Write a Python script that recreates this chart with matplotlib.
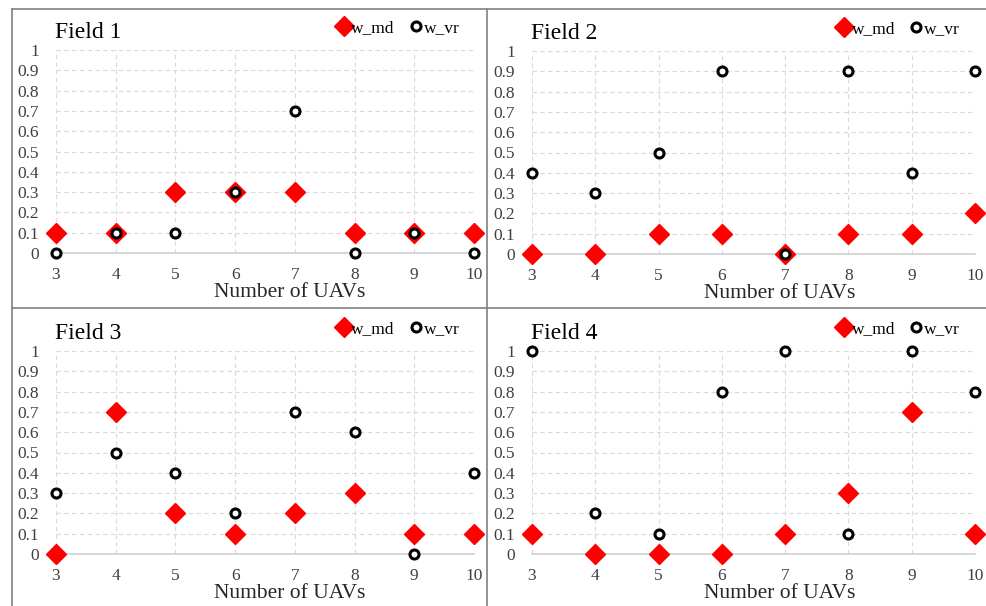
import numpy as np
import matplotlib
matplotlib.use('Agg')
import matplotlib.pyplot as plt
from matplotlib.lines import Line2D

plt.rcParams['font.family'] = ['Liberation Serif', 'DejaVu Serif']

# Data
n_uavs = [3, 4, 5, 6, 7, 8, 9, 10]
titles = ['Field 1', 'Field 2', 'Field 3', 'Field 4']

f1_md = [0.1, 0.1, 0.3, 0.3, 0.3, 0.1, 0.1, 0.1]
f1_vr = [0.0, 0.1, 0.1, 0.3, 0.7, 0.0, 0.1, 0.0]
f2_md = [0.0, 0.0, 0.1, 0.1, 0.0, 0.1, 0.1, 0.2]
f2_vr = [0.4, 0.3, 0.5, 0.9, 0.0, 0.9, 0.4, 0.9]
f3_md = [0.0, 0.7, 0.2, 0.1, 0.2, 0.3, 0.1, 0.1]
f3_vr = [0.3, 0.5, 0.4, 0.2, 0.7, 0.6, 0.0, 0.4]
f4_md = [0.1, 0.0, 0.0, 0.0, 0.1, 0.3, 0.7, 0.1]
f4_vr = [1.0, 0.2, 0.1, 0.8, 1.0, 0.1, 1.0, 0.8]

yticks = [0, 0.1, 0.2, 0.3, 0.4, 0.5, 0.6, 0.7, 0.8, 0.9, 1]
ytick_labels = ['0', '0.1', '0.2', '0.3', '0.4', '0.5', '0.6', '0.7', '0.8', '0.9', '1']

md_list = [f1_md, f2_md, f3_md, f4_md]
vr_list = [f1_vr, f2_vr, f3_vr, f4_vr]

W, H = 987, 606
fig = plt.figure(figsize=(W/100., H/100.), dpi=100)

def px_axes(left, right, top, bottom):
    return fig.add_axes([left/W, 1 - bottom/H, (right-left)/W, (bottom-top)/H])

# plot area extents in pixels: (left, right, top(y=1), bottom(y=0))
boxes = [(56, 474, 50, 253), (532, 975, 51, 254),
         (56, 474, 351, 554), (532, 975, 351, 554)]

for i in range(4):
    l, r, t, b = boxes[i]
    ax = px_axes(l, r, t, b)
    ax.set_xlim(3, 10)
    ax.set_ylim(0, 1)
    ax.grid(True, color='#d9d9d9', linestyle=(0, (4, 3)), linewidth=0.8)
    ax.set_axisbelow(True)
    for sp in ['top', 'right', 'left']:
        ax.spines[sp].set_visible(False)
    ax.spines['bottom'].set_color('#d0d0d0')
    ax.spines['bottom'].set_linewidth(1.2)
    ax.set_xticks(n_uavs)
    ax.set_yticks(yticks)
    ax.set_yticklabels(ytick_labels)
    ax.tick_params(length=0, labelsize=12.5, colors='#404040')
    ax.tick_params(axis='x', pad=10)
    ax.tick_params(axis='y', pad=12)
    ax.plot(n_uavs, md_list[i], linestyle='none', marker='D', ms=10,
            color='#ff0000', mec='#ff0000', clip_on=False, zorder=3, label='w_md')
    ax.plot(n_uavs, vr_list[i], linestyle='none', marker='o', ms=6.5,
            mfc='white', mec='black', mew=2.2, clip_on=False, zorder=4, label='w_vr')
    ax.set_xlabel('Number of UAVs', fontsize=15.5, color='#262626', labelpad=0,
                  x=0.56)
    ax.text(-0.003, 1.06, titles[i], transform=ax.transAxes, fontsize=17,
            color='black', ha='left', va='baseline')
    ax.legend(loc='center right', bbox_to_anchor=(0.965, 1.11), ncol=2,
              frameon=False, fontsize=12.5, handlelength=0.6, handletextpad=0.15,
              columnspacing=0.9, borderaxespad=0, borderpad=0)

# panel borders
bc = '#808080'
def fline(x0, y0, x1, y1):
    fig.add_artist(Line2D([x0/W, x1/W], [1 - y0/H, 1 - y1/H], color=bc, lw=1.2))

fline(12, 9, W, 9)
fline(12, 9, 12, H)
fline(487, 9, 487, H)
fline(12, 308, W, 308)

fig.savefig('out.png', dpi=100)
